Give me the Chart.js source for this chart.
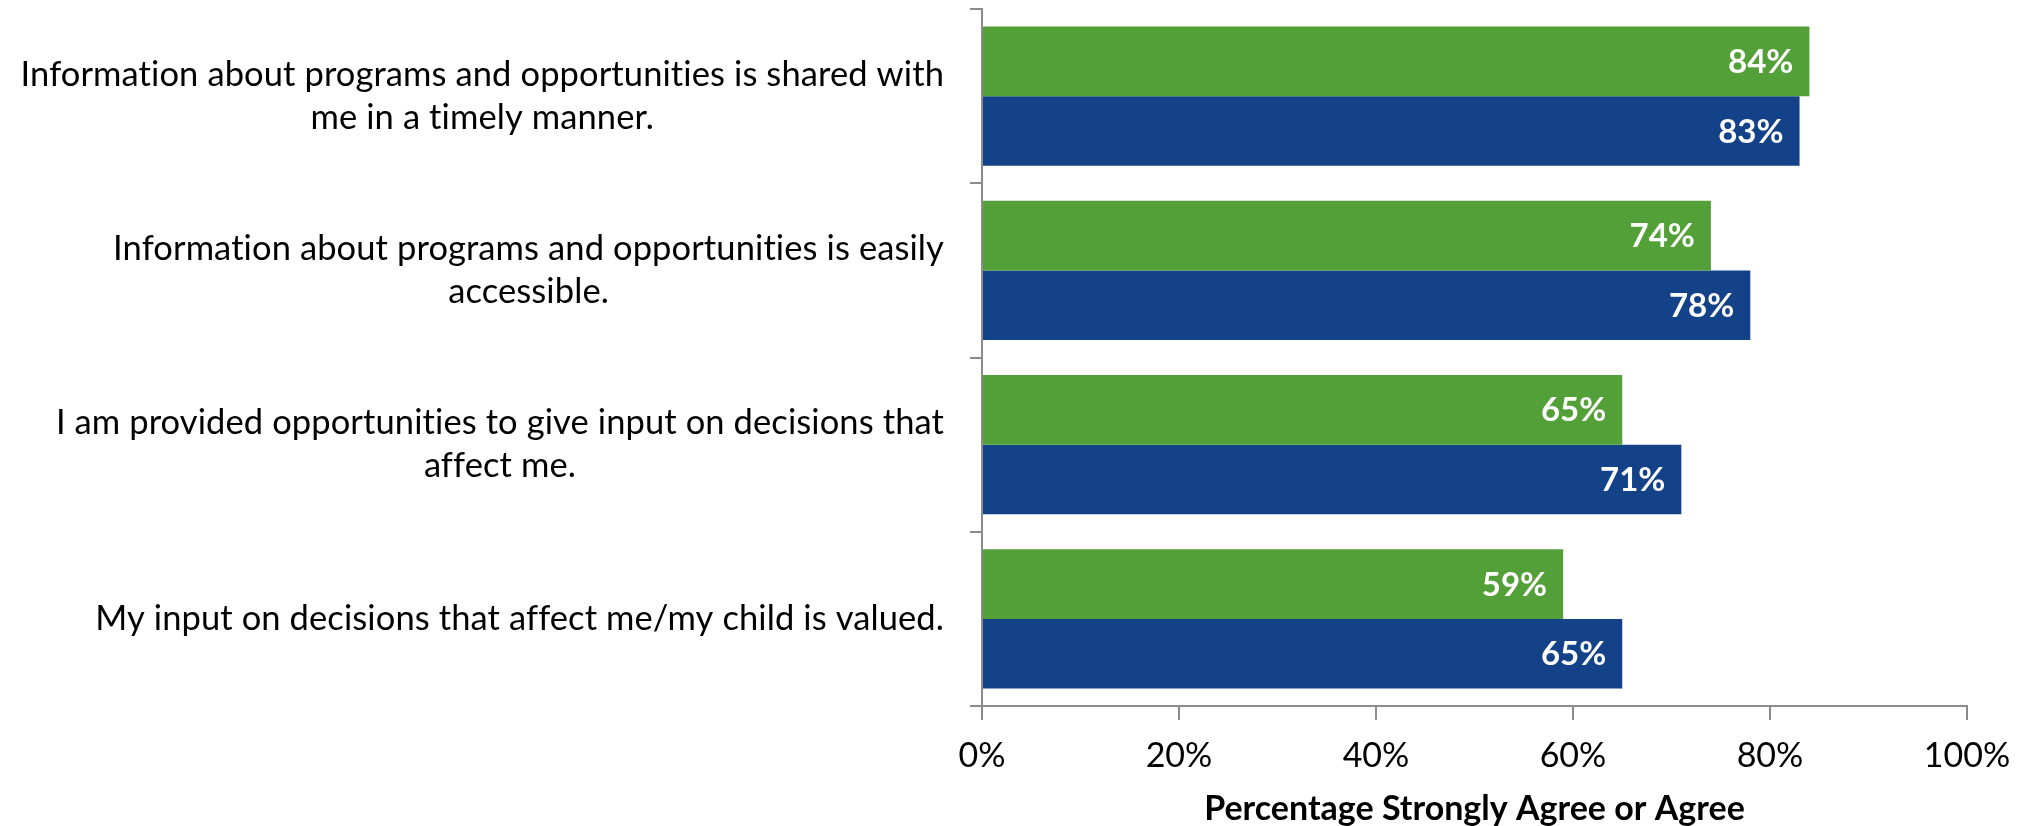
<!DOCTYPE html>
<html>
<head>
<meta charset="utf-8">
<script src="https://cdn.jsdelivr.net/npm/chart.js@4/dist/chart.umd.min.js"></script>
<style>
  html, body { margin: 0; padding: 0; background: #fff; }
  #wrap { width: 2028px; height: 826px; position: relative; }
</style>
</head>
<body>
<div id="wrap"><canvas id="survey-chart"></canvas></div>
<script>
// questions, each one split into the lines shown on the left
var questions = [
  ["Information about programs and opportunities is shared with", "me in a timely manner."],
  ["Information about programs and opportunities is easily", "accessible."],
  ["I am provided opportunities to give input on decisions that", "affect me."],
  ["My input on decisions that affect me/my child is valued."]
];
var greenValues = [84, 74, 65, 59];
var blueValues = [83, 78, 71, 65];
var xTicks = [0, 20, 40, 60, 80, 100];

var FONT = "Lato, 'Open Sans', sans-serif";
var AXIS_GRAY = "#8c8c8c";

// category labels: block right aligned, lines centred inside it
var questionLabels = {
  id: "questionLabels",
  afterDraw: function (chart) {
    var c = chart.ctx;
    var yScale = chart.scales.y;
    c.save();
    c.font = "34.5px " + FONT;
    c.letterSpacing = "0.1px"; // keeps "ti" from turning into a ligature
    c.fillStyle = "#000";
    c.textBaseline = "middle";
    c.textAlign = "center";
    var lineH = 43;
    questions.forEach(function (lines, i) {
      var maxW = 0;
      lines.forEach(function (l) { maxW = Math.max(maxW, c.measureText(l).width); });
      var cx = 944 - maxW / 2;
      var cy = yScale.getPixelForValue(i);
      var top = cy - (lines.length - 1) * lineH / 2;
      lines.forEach(function (l, k) { c.fillText(l, cx, top + k * lineH); });
    });
    c.restore();
  }
};

// white percentage labels at the inner end of each bar
var valueLabels = {
  id: "valueLabels",
  afterDatasetsDraw: function (chart) {
    var c = chart.ctx;
    c.save();
    c.font = "bold 33px " + FONT;
    c.fillStyle = "#fff";
    c.textAlign = "right";
    c.textBaseline = "middle";
    chart.data.datasets.forEach(function (ds, di) {
      chart.getDatasetMeta(di).data.forEach(function (bar, i) {
        c.fillText(ds.data[i] + "%", bar.x - 16, bar.y + 1);
      });
    });
    c.restore();
  }
};

var ctx = document.getElementById("survey-chart").getContext("2d");
var surveyChart = new Chart(ctx, {
  type: "bar",
  data: {
    labels: questions,
    datasets: [
      {
        label: "Series 1",
        data: greenValues,
        backgroundColor: "#54A038",
        borderWidth: 0,
        categoryPercentage: 0.8,
        barPercentage: 1.0
      },
      {
        label: "Series 2",
        data: blueValues,
        backgroundColor: "#134289",
        borderWidth: 0,
        categoryPercentage: 0.8,
        barPercentage: 1.0
      }
    ]
  },
  options: {
    indexAxis: "y",
    responsive: true,
    maintainAspectRatio: false,
    animation: false,
    layout: { padding: { top: 9, right: 61, bottom: 0, left: 0 } },
    plugins: {
      legend: { display: false },
      tooltip: { enabled: false }
    },
    scales: {
      x: {
        min: 0,
        max: 100,
        afterBuildTicks: function (s) {
          s.ticks = xTicks.map(function (v) { return { value: v }; });
        },
        afterFit: function (s) { s.height = 120; },
        grid: {
          drawOnChartArea: false,
          drawTicks: true,
          tickLength: 14,
          color: AXIS_GRAY,
          lineWidth: 2
        },
        border: { display: true, color: AXIS_GRAY, width: 2 },
        ticks: {
          padding: 16,
          color: "#000",
          font: { family: FONT, size: 34 },
          callback: function (v) { return v + "%"; }
        },
        title: {
          display: true,
          text: "Percentage Strongly Agree or Agree",
          color: "#000",
          font: { family: FONT, size: 34, weight: "bold", lineHeight: 1 },
          padding: { top: 0, bottom: 0 }
        }
      },
      y: {
        afterFit: function (s) { s.width = 982; },
        grid: {
          offset: true,
          drawOnChartArea: false,
          drawTicks: true,
          tickLength: 12,
          color: AXIS_GRAY,
          lineWidth: 2
        },
        border: { display: true, color: AXIS_GRAY, width: 2 },
        ticks: { display: false }
      }
    }
  },
  plugins: [questionLabels, valueLabels]
});
</script>
</body>
</html>
